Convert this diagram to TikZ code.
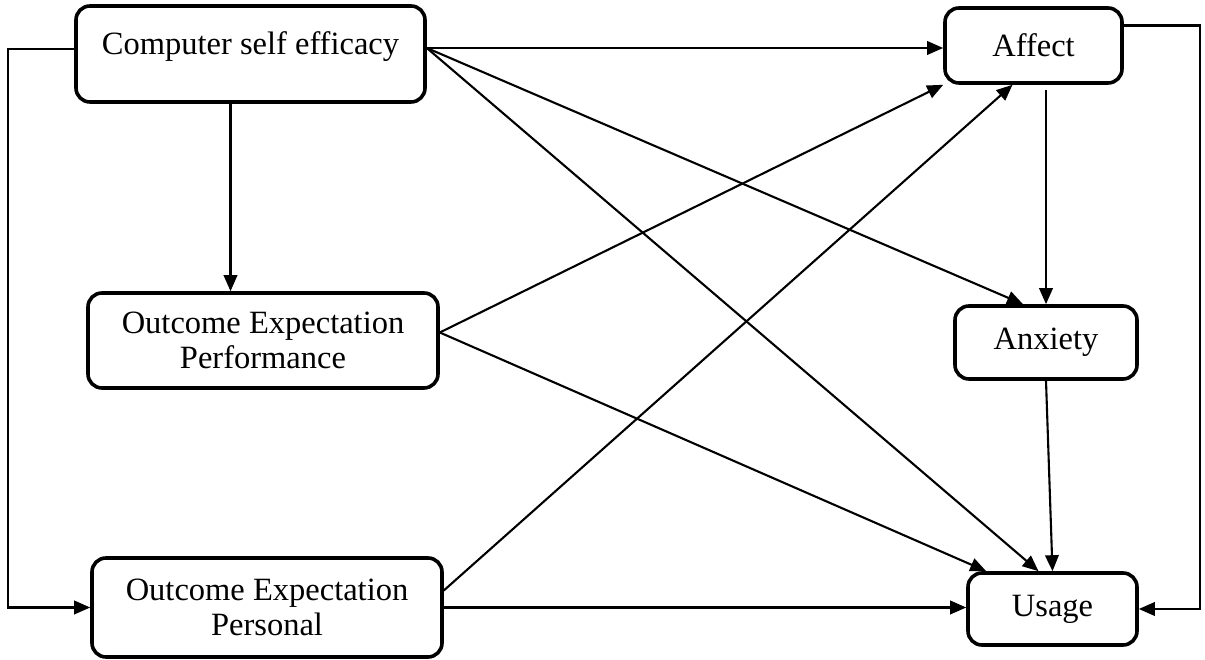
\documentclass[tikz,border=0pt]{standalone}
\usepackage{fontspec}
\setmainfont{Liberation Serif}
\usetikzlibrary{arrows.meta}
\begin{document}
\begin{tikzpicture}[x=1pt,y=1pt,
  box/.style={draw, line width=3.6pt, rounded corners=14pt, align=center,
    inner sep=0pt, font=\fontsize{32.5}{36}\selectfont},
  link/.style={line width=2.1pt, line join=miter,
    -{Triangle[length=16pt,width=13.5pt]}}]
\fill[white] (0,0) rectangle (1205,660);
\useasboundingbox (0,0) rectangle (1205,660);

% constructs
\node[box, minimum width=349pt, minimum height=96pt, text height=22pt, text depth=20pt]
  (cse) at (250.5,606) {Computer self efficacy};
\node[box, minimum width=177pt, minimum height=75pt] (aff) at (1033.5,614.5) {Affect};
\node[box, minimum width=182pt, minimum height=73pt] (anx) at (1046,317.5) {Anxiety};
\node[box, minimum width=350pt, minimum height=95pt] (oep) at (263,319.5)
  {\raisebox{-10pt}{\shortstack{Outcome Expectation\\[3pt]Performance}}};
\node[box, minimum width=350pt, minimum height=99pt] (oeq) at (267,52.5)
  {\raisebox{-8pt}{\shortstack{Outcome Expectation\\[3pt]Personal}}};
\node[box, minimum width=169pt, minimum height=72pt] (use) at (1052.5,51) {Usage};

% outer routing columns
\coordinate (lcol) at (8,0);
\coordinate (rcol) at (1200,0);

% paths leaving computer self efficacy
\coordinate (cseo) at ([yshift=6pt]cse.east);
\draw[link] (cseo) -- (cseo -| aff.west);
\draw[link] (cseo) -- ([xshift=-23pt]anx.north);
\draw[link] (cseo) -- ([xshift=-14pt]use.north);
\draw[link] ([xshift=-20pt]cse.south) -- ([xshift=-20pt]cse.south |- oep.north);
\coordinate (csel) at ([yshift=5pt]cse.west);
\draw[link] (csel) -- (csel -| lcol) -- (lcol |- oeq.west) -- (oeq.west);

% paths leaving the outcome expectations
\coordinate (oepo) at ([yshift=8pt]oep.east);
\draw[link] (oepo) -- (aff.south west);
\draw[link] (oepo) -- ([xshift=20pt]use.north west);
\draw[link] ([yshift=17pt]oeq.east) -- ([xshift=-21pt]aff.south);
\draw[link] (oeq.east) -- (oeq.east -| use.west);

% paths leaving affect and anxiety
\draw[link] ([yshift=-5pt]anx.north |- aff.south) -- (anx.north);
\draw[link] (anx.south) -- (use.north);
\coordinate (affr) at ([yshift=20pt]aff.east);
\draw[link] (affr) -- (affr -| rcol) -- (rcol |- use.east) -- (use.east);
\end{tikzpicture}
\end{document}
